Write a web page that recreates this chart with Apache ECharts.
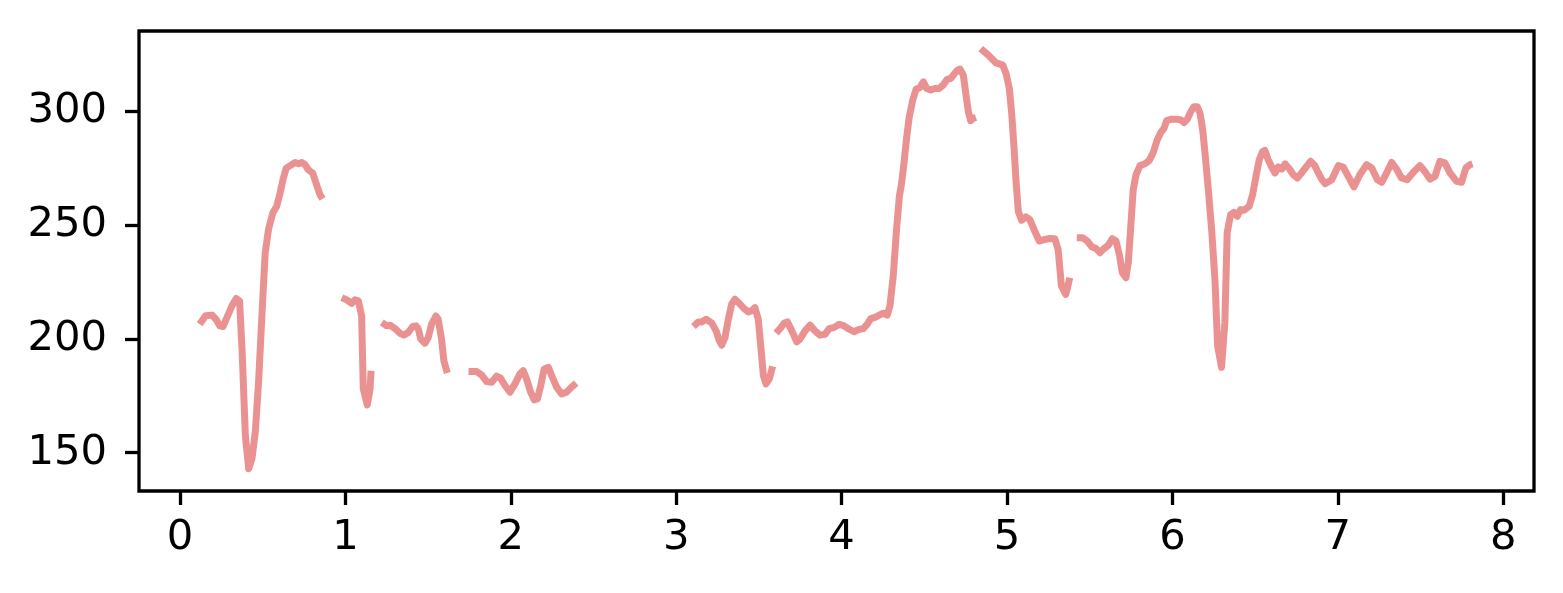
<!DOCTYPE html>
<html>
<head>
<meta charset="utf-8">
<script src="https://cdn.jsdelivr.net/npm/echarts@6/dist/echarts.min.js"></script>
<style>
html,body{margin:0;padding:0;background:#fff;}
#chart{width:1563px;height:593px;}
</style>
</head>
<body>
<div id="chart"></div>
<script>
// x values (null = gap in the line)
const xs = [
  0.119,0.154,0.194,0.220,0.240,0.260,0.284,0.314,0.340,0.360,0.375,0.395,0.415,0.435,0.455,0.475,0.495,0.515,0.535,0.561,0.585,0.605,0.625,0.642,0.666,0.696,0.716,0.736,0.756,0.776,0.802,0.826,0.846,0.862,
  null,
  0.978,1.008,1.038,1.058,1.078,1.098,1.108,1.132,1.149,1.155,
  null,
  1.220,1.250,1.270,1.300,1.330,1.354,1.380,1.407,1.427,1.441,1.455,1.481,1.501,1.521,1.547,1.561,1.581,1.595,1.616,
  null,
  1.744,1.794,1.824,1.854,1.884,1.914,1.938,1.965,1.995,2.025,2.055,2.075,2.095,2.120,2.141,2.161,2.181,2.201,2.227,2.247,2.277,2.307,2.337,2.367,2.395,
  null,
  3.104,3.134,3.154,3.181,3.215,3.241,3.261,3.275,3.295,3.315,3.335,3.355,3.381,3.410,3.436,3.456,3.476,3.496,3.511,3.527,3.543,3.563,3.583,
  null,
  3.604,3.628,3.653,3.672,3.699,3.729,3.749,3.779,3.809,3.839,3.869,3.900,3.925,3.954,3.986,4.014,4.046,4.075,4.101,4.131,4.155,4.176,4.202,4.228,4.252,4.276,4.292,4.312,4.332,4.349,4.363,4.377,4.394,4.409,4.430,4.450,4.474,4.494,4.514,4.538,4.564,4.590,4.614,4.638,4.660,4.680,4.700,4.716,4.736,4.752,4.766,4.780,4.796,4.812,
  null,
  4.841,4.887,4.934,4.974,4.994,5.014,5.028,5.042,5.054,5.068,5.088,5.114,5.138,5.163,5.195,5.229,5.259,5.289,5.309,5.329,5.355,5.369,5.379,
  null,
  5.422,5.458,5.486,5.512,5.538,5.562,5.586,5.612,5.636,5.659,5.679,5.697,5.719,5.733,5.747,5.763,5.780,5.804,5.834,5.860,5.884,5.908,5.929,5.949,5.965,5.995,6.026,6.050,6.070,6.090,6.111,6.130,6.150,6.167,6.183,6.197,6.217,6.237,6.257,6.273,6.297,6.317,6.331,6.352,6.372,6.392,6.412,6.433,6.464,6.485,6.505,6.525,6.545,6.559,6.579,6.600,6.620,6.640,6.661,6.681,6.711,6.731,6.755,6.781,6.811,6.835,6.861,6.882,6.903,6.923,6.963,7.003,7.033,7.063,7.097,7.133,7.174,7.205,7.239,7.265,7.295,7.325,7.355,7.385,7.419,7.455,7.496,7.526,7.557,7.587,7.617,7.647,7.678,7.718,7.748,7.774,7.798,7.814
];
// y values (null = gap in the line)
const ys = [
  206.4,210.1,210.4,208.3,205.7,205.4,209.4,214.5,217.7,216.6,195.5,157.6,143.0,147.4,159.1,181,210,237.8,248,255.3,258.2,264,270.6,274.9,276,277.4,276.8,277.4,276.4,274.2,272.8,267.6,263.3,261.4,
  null,
  218.1,217.1,215.6,217.1,216.7,210,178,171,178,186,
  null,
  207.2,205.7,206,204.5,202.4,201.6,202.8,205.4,205.7,204.2,199.9,198.1,200.6,206.4,210,208.6,199.9,190.4,185,
  null,
  185.6,185.6,184.1,181.2,180.9,183.6,182.7,179.5,176.6,180.2,184.6,186,182.4,176.6,173.2,173.6,179.5,186.7,187.5,183.8,178.8,175.8,176.6,178.8,180.6,
  null,
  205.4,207.4,207.4,208.6,206.9,203.5,199.1,197.2,200.6,208.6,215.2,217.4,215.6,213.3,211.8,212.3,213.7,208.6,196.9,183.8,180.2,182.4,187.9,
  null,
  202.5,204.5,206.9,207.4,203.5,198.7,199.9,203.5,206,203.5,201.6,202,204.5,205,206.4,205.7,204.2,203.1,204,204.5,206.4,208.9,209.4,210.4,211.2,210.4,214.4,227.5,248,262.5,268.4,277.1,288.8,297.5,304.8,309.5,310.4,312.8,309.9,309.2,309.9,309.9,311.4,313.9,314.3,316.2,317.9,318.4,315.7,307,299.7,295.8,296.8,297.2,
  null,
  327.4,324.5,321.1,320.1,316.5,309.9,299,284.4,269.8,256,252,253.5,252.3,248,242.9,243.6,244,243.9,239.2,223.2,219.5,223.5,226.8,
  null,
  244.3,244.3,242.9,240.4,239.6,237.8,239.6,241,243.9,242.9,237,229,226.8,233.4,248,265.5,272,276,276.8,278.3,281.8,287.3,290.5,292.4,295.8,296.4,296.4,296.1,294.9,296.4,299.7,301.9,301.9,299,291.7,281.5,265.5,248,226.1,196.9,187.5,207.2,246.6,254.5,255.5,253.8,256.7,256.4,258.2,263.3,271.3,278.6,282.2,282.7,278.6,275.4,272.8,275.4,274.5,276.8,274.2,272,270.6,272.8,275.7,277.9,276,272.8,270,268.1,269.8,276,275.4,271.3,266.7,272,276.4,275,269.8,268.7,272.8,277.4,274.5,270.6,269.8,273,276,273.5,270.1,271.3,277.9,277.2,272.8,269.1,268.7,275,276.4,276.8
];
const xTicks = [0,1,2,3,4,5,6,7,8];
const yTicks = [150,200,250,300];

const data = xs.map((x, i) => (x === null || ys[i] === null) ? [NaN, NaN] : [x, ys[i]]);

const chart = echarts.init(document.getElementById('chart'), null, {renderer: 'canvas'});
const labelFont = {color: '#000', fontSize: 41.7, fontFamily: 'DejaVu Sans'};
chart.setOption({
  animation: false,
  backgroundColor: '#fff',
  grid: {left: 139, right: 29, top: 31, bottom: 102, show: true, borderColor: '#000', borderWidth: 3.3, backgroundColor: 'transparent'},
  xAxis: {
    type: 'value', min: -0.248, max: 8.186,
    axisLine: {show: false, onZero: false},
    splitLine: {show: false},
    axisTick: {show: true, inside: false, length: 14, lineStyle: {color: '#000', width: 3.3}, customValues: xTicks},
    axisLabel: Object.assign({margin: 26, customValues: xTicks, formatter: v => String(v)}, labelFont)
  },
  yAxis: {
    type: 'value', min: 133.2, max: 335.1,
    axisLine: {show: false, onZero: false},
    splitLine: {show: false},
    axisTick: {show: true, inside: false, length: 14, lineStyle: {color: '#000', width: 3.3}, customValues: yTicks},
    axisLabel: Object.assign({margin: 32, customValues: yTicks, formatter: v => String(v), padding: [4, 0, 0, 0]}, labelFont)
  },
  series: [{
    type: 'line',
    data: data,
    showSymbol: false,
    connectNulls: false,
    clip: true,
    lineStyle: {color: '#EA9292', width: 7, join: 'round', cap: 'butt'}
  }]
});
</script>
</body>
</html>
